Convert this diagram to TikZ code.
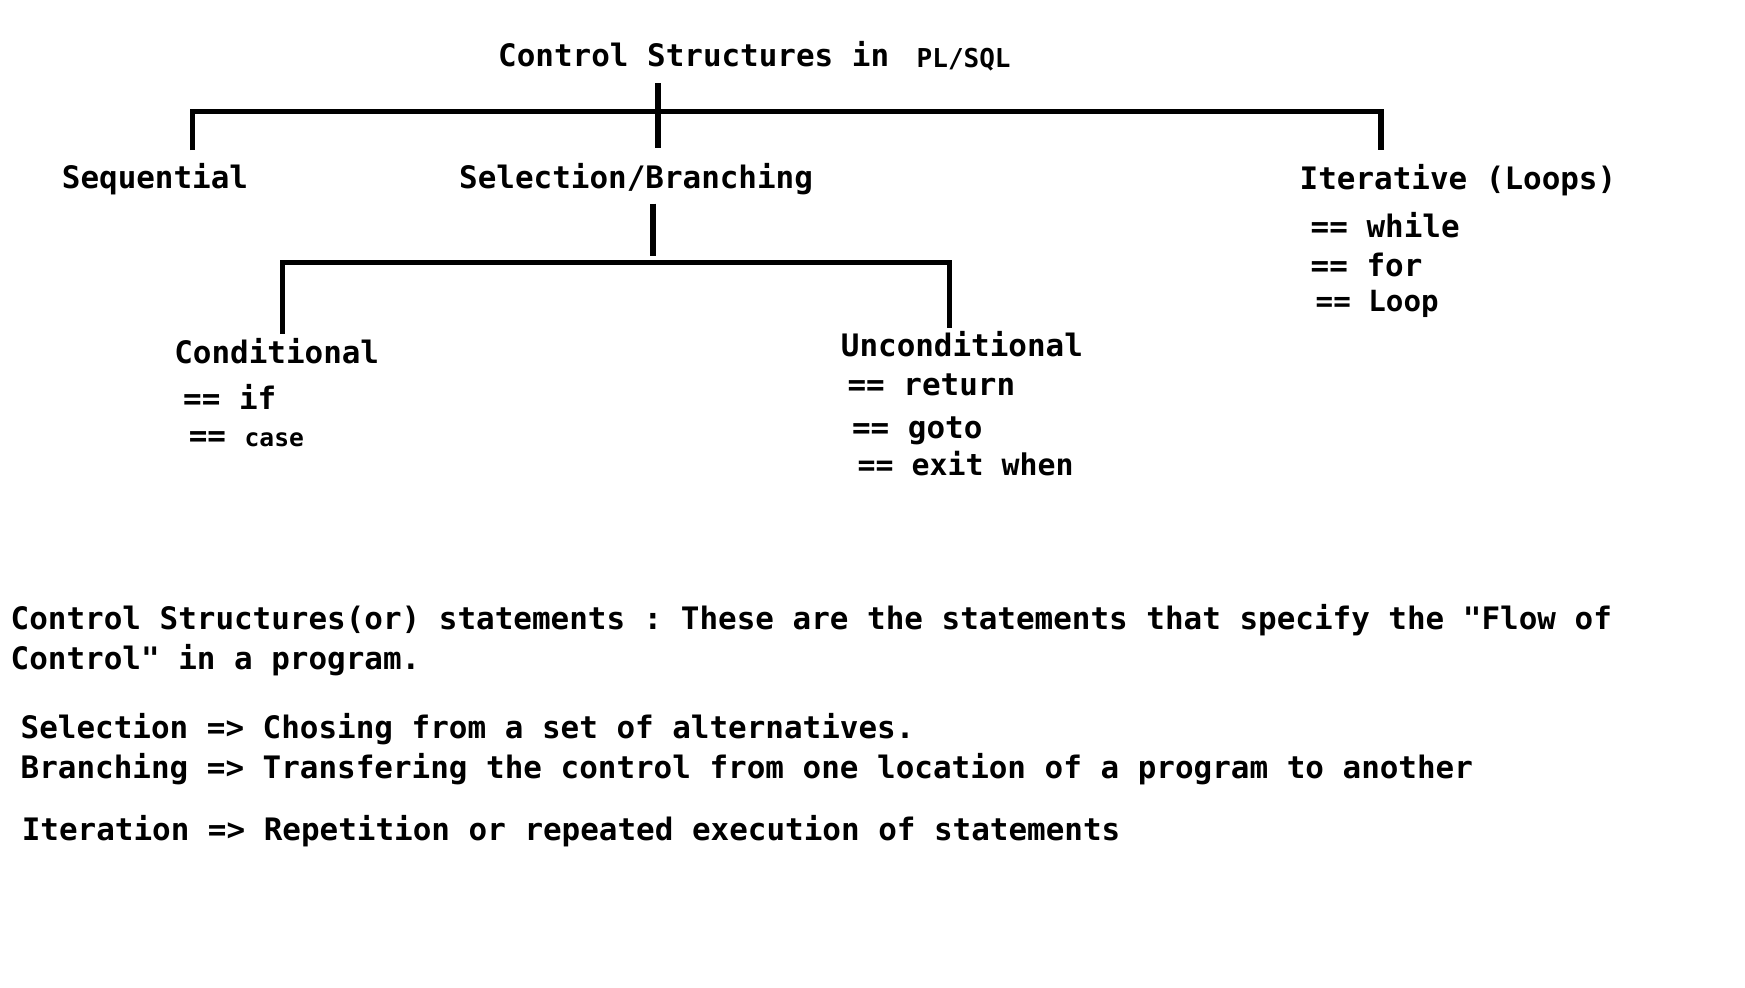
\documentclass[tikz,border=0pt]{standalone}
\usepackage{fontspec}
\setmonofont{DejaVu Sans Mono}
\usetikzlibrary{positioning}

\begin{document}
\begin{tikzpicture}[
    lbl/.style={font=\ttfamily\bfseries\fontsize{8.8}{10}\selectfont, anchor=base west, inner sep=0pt},
    bar/.style={line width=1.5pt}]
  \useasboundingbox (0,0) rectangle (17.45,-9.88);

  % Title
  \node[lbl] (title) at (4.975,-0.668) {Control Structures in};
  \node[lbl, font=\ttfamily\bfseries\fontsize{7.4}{9}\selectfont] (plsql) at (9.16,-0.68) {PL/SQL};

  % First level
  \node[lbl] (seq) at (0.612,-1.89) {Sequential};
  \node[lbl] (sel) at (4.585,-1.89) {Selection/Branching};
  \node[lbl] (iter) at (12.99,-1.90) {Iterative (Loops)};
  \node[lbl] (while) at (13.10,-2.38) {== while};
  \node[lbl] (for) at (13.10,-2.77) {== for};
  \node[lbl, font=\ttfamily\bfseries\fontsize{8.3}{9}\selectfont] (loop) at (13.15,-3.12) {== Loop};

  % Second level
  \node[lbl] (cond) at (1.736,-3.64) {Conditional};
  \node[lbl] (if) at (1.825,-4.10) {== if};
  \node[lbl] (case) at (1.881,-4.47) {== {\fontsize{7}{8}\selectfont case}};
  \node[lbl] (uncond) at (8.402,-3.57) {Unconditional};
  \node[lbl] (ret) at (8.469,-3.96) {== return};
  \node[lbl] (goto) at (8.514,-4.39) {== goto};
  \node[lbl, font=\ttfamily\bfseries\fontsize{8.5}{9}\selectfont] (exit) at (8.57,-4.76) {== exit when};

  % Tree lines
  \coordinate (root) at (6.58,-0.835);
  \coordinate (seq-in) at (1.925,-1.502);
  \coordinate (sel-in) at (6.58,-1.48);
  \coordinate (iter-in) at (13.81,-1.50);
  \draw[bar] (root) -- (sel-in);
  \draw[bar] (seq-in) -- ++(0,0.389) -| (iter-in);

  \coordinate (brk-top) at (6.53,-2.037);
  \coordinate (brk-bot) at (6.53,-2.56);
  \coordinate (cond-in) at (2.827,-3.339);
  \coordinate (uncond-in) at (9.493,-3.283);
  \draw[bar] (brk-top) -- (brk-bot);
  \draw[bar] (cond-in) -- ++(0,0.713) -| (uncond-in);

  % Definitions
  \node[lbl] (def1) at (0.10,-6.30) {Control Structures(or) statements : These are the statements that specify the "Flow of};
  \node[lbl] (def2) at (0.10,-6.70) {Control" in a program.};
  \node[lbl] (selx) at (0.20,-7.39) {Selection => Chosing from a set of alternatives.};
  \node[lbl] (brx) at (0.20,-7.79) {Branching => Transfering the control from one location of a program to another};
  \node[lbl] (itx) at (0.211,-8.41) {Iteration => Repetition or repeated execution of statements};
\end{tikzpicture}
\end{document}
